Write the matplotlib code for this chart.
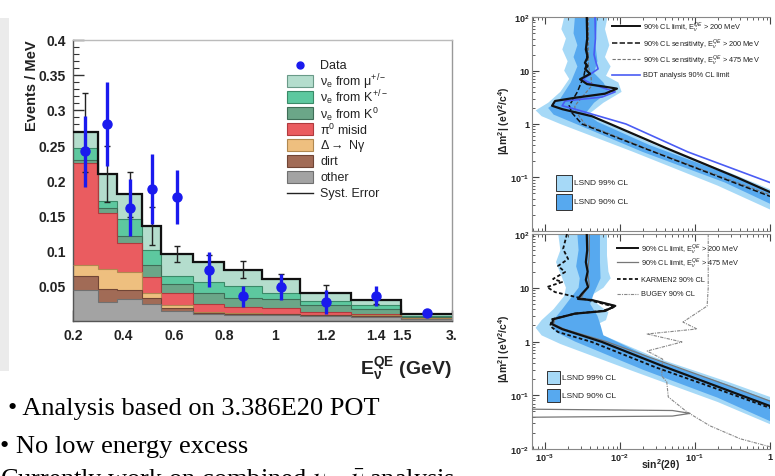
import numpy as np
import matplotlib
matplotlib.use("Agg")
import matplotlib.pyplot as plt
from matplotlib.patches import Rectangle
from matplotlib.ticker import FixedLocator, FixedFormatter, MultipleLocator, NullFormatter, LogLocator

plt.rcParams['font.family'] = ['Liberation Sans', 'DejaVu Sans']
plt.rcParams['mathtext.fontset'] = 'custom'
plt.rcParams['mathtext.rm'] = 'Liberation Sans'
plt.rcParams['mathtext.it'] = 'Liberation Sans:italic'
plt.rcParams['mathtext.bf'] = 'Liberation Sans:bold'

# ---------------- left panel data (Events / MeV) ----------------
bin_edges = [0.2, 0.3, 0.375, 0.475, 0.55, 0.675, 0.8, 0.95, 1.1, 1.3, 1.5, 3.0]
other = [0.043, 0.027, 0.031, 0.024, 0.014, 0.0095, 0.008, 0.008, 0.006, 0.005, 0.0025]
dirt = [0.021, 0.018, 0.012, 0.008, 0.004, 0.0015, 0.0015, 0.0015, 0.002, 0.002, 0.0005]
delta_ng = [0.016, 0.029, 0.026, 0.008, 0.004, 0.0015, 0.0015, 0.0005, 0.0005, 0.0005, 0.0003]
pi0_misid = [0.145, 0.079, 0.042, 0.022, 0.017, 0.0112, 0.008, 0.0076, 0.0035, 0.002, 0.0005]
nue_k0 = [0.004, 0.007, 0.010, 0.017, 0.013, 0.0153, 0.014, 0.0134, 0.010, 0.0075, 0.0019]
nue_kpm = [0.017, 0.010, 0.024, 0.021, 0.011, 0.0156, 0.017, 0.008, 0.006, 0.005, 0.0013]
nue_mu = [0.022, 0.039, 0.035, 0.035, 0.032, 0.0284, 0.0226, 0.021, 0.012, 0.007, 0.0025]
syst_err = [0.056, 0.040, 0.032, 0.027, 0.012, 0.010, 0.0125, 0.007, 0.011, 0.005, 0.002]
data_vals = [0.241, 0.280, 0.161, 0.187, 0.176, 0.0726, 0.0346, 0.048, 0.026, 0.0356, 0.0104]
data_errs = [0.050, 0.060, 0.041, 0.050, 0.038, 0.025, 0.015, 0.018, 0.017, 0.014, 0.002]
comp_labels = [r'$\mathrm{\nu_{e}}$ from $\mathrm{\mu^{+/-}}$', r'$\mathrm{\nu_{e}}$ from K$^{+/-}$',
               r'$\mathrm{\nu_{e}}$ from K$^{0}$', r'$\mathrm{\pi^{0}}$ misid',
               r'$\mathrm{\Delta\rightarrow}$ N$\mathrm{\gamma}$', 'dirt', 'other']
x_tick_vals = [0.2, 0.4, 0.6, 0.8, 1.0, 1.2, 1.4, 1.5, 3.0]
x_tick_labels = ['0.2', '0.4', '0.6', '0.8', '1', '1.2', '1.4', '1.5', '3.']
y_tick_vals = [0.05, 0.1, 0.15, 0.2, 0.25, 0.3, 0.35, 0.4]
y_tick_labels = ['0.05', '0.1', '0.15', '0.2', '0.25', '0.3', '0.35', '0.4']

# ---------------- right panels data (sin^2 2theta, dm^2) ----------------
top_limit_x = [3.6e-3, 3.65e-3, 3.5e-3, 3.7e-3, 3.4e-3, 3.7e-3, 3.42e-3, 3.98e-3, 2.93e-3, 3.63e-3, 6.3e-3,
               9.1e-3, 6.3e-3, 2.5e-3, 1.36e-3, 1.24e-3, 1.69e-3, 4.2e-3, 7.4e-3, 0.04, 0.36, 1.0]
top_limit_y = [100, 40, 25, 18, 14, 12.2, 10.8, 8.7, 6.9, 5.6, 5.0, 4.6, 3.7, 3.1, 2.7, 2.2, 1.9, 1.4,
               1.0, 0.36, 0.1, 0.053]
top_sens200_x = [3.6e-3, 3.6e-3, 3.3e-3, 2.7e-3, 2.1e-3, 2.3e-3, 3.1e-3, 0.03, 1.0]
top_sens200_y = [100, 15, 8, 4, 2.2, 1.6, 1.0, 0.29, 0.044]
top_sens475_x = [3.8e-3, 3.8e-3, 4.1e-3, 4.2e-3, 3.3e-3, 2.5e-3, 2.5e-3, 3.4e-3, 0.033, 1.0]
top_sens475_y = [100, 12, 8, 5.2, 3.5, 2.2, 1.8, 1.0, 0.28, 0.047]
top_bdt_x = [4.64e-3, 4.7e-3, 4.5e-3, 4.8e-3, 5.1e-3, 3.2e-3, 4.2e-3, 8.6e-3, 5.75e-3, 1.85e-3, 1.69e-3,
             2.5e-3, 1.2e-2, 0.08, 1.0]
top_bdt_y = [100, 40, 20, 14, 10.8, 6.9, 5.6, 4.0, 3.2, 2.7, 2.2, 1.9, 1.0, 0.3, 0.08]
top_lsnd99_x = [1.8e-3, 1.65e-3, 1.9e-3, 1.7e-3, 2.0e-3, 1.8e-3, 2.1e-3, 1.6e-3, 1.1e-3, 7.5e-4, 9e-4, 1.6e-3,
                0.015, 0.2, 1.0, 1.0, 0.3, 0.03, 6e-3, 4e-3, 6e-3, 1.05e-2, 9.5e-3, 6.5e-3, 7.5e-3, 6.3e-3,
                7.2e-3, 6.3e-3, 6.8e-3]
top_lsnd99_y = [100, 60, 40, 25, 15, 10, 7, 4, 2.5, 1.8, 1.4, 1.0, 0.3, 0.07, 0.025, 0.06, 0.12, 0.4, 1.1,
                1.6, 2.5, 4, 6, 8, 12, 18, 30, 60, 100]
top_lsnd90_x = [2.5e-3, 2.4e-3, 2.7e-3, 2.4e-3, 2.7e-3, 2.2e-3, 1.6e-3, 1.1e-3, 1.3e-3, 2.6e-3, 0.02, 0.25,
                1.0, 1.0, 0.3, 0.025, 5e-3, 3.5e-3, 4.5e-3, 7e-3, 6e-3, 4.5e-3, 5e-3, 4.7e-3, 5e-3]
top_lsnd90_y = [100, 50, 30, 18, 12, 6, 3, 2.0, 1.5, 1.0, 0.3, 0.08, 0.032, 0.053, 0.11, 0.4, 1.1, 1.6,
                2.5, 4, 6, 9, 15, 30, 100]

bot_limit200_x = [3.6e-3, 3.65e-3, 3.5e-3, 3.7e-3, 3.5e-3, 3.75e-3, 3.1e-3, 2.75e-3, 4.2e-3, 8.6e-3, 6.3e-3,
                  2.5e-3, 1.28e-3, 1.24e-3, 1.69e-3, 5.75e-3, 0.035, 0.2, 1.0]
bot_limit200_y = [100, 50, 30, 20, 14, 10.3, 7.7, 6.2, 5.9, 4.6, 3.7, 3.3, 2.6, 2.1, 1.7, 0.98, 0.36,
                  0.145, 0.063]
bot_limit475_x = [3.9e-3, 3.9e-3, 3.7e-3, 3.9e-3, 3.3e-3, 3.0e-3, 4.5e-3, 8.8e-3, 6.5e-3, 2.6e-3, 1.35e-3,
                  1.3e-3, 1.8e-3, 6.5e-3, 0.04, 0.25, 1.0]
bot_limit475_y = [100, 40, 20, 11, 8, 6.3, 5.8, 4.6, 3.7, 3.3, 2.6, 2.1, 1.7, 1.0, 0.4, 0.16, 0.078]
bot_island_x = [6.7e-4, 0.05, 0.086, 0.05, 6.7e-4]
bot_island_y = [0.055, 0.052, 0.046, 0.041, 0.039]
karmen_x = [1.96e-3, 1.74e-3, 2.03e-3, 1.49e-3, 1.85e-3, 1.28e-3, 1.69e-3, 1.06e-3, 1.36e-3, 2.29e-3,
            4.2e-3, 8.6e-3, 5.75e-3, 2.5e-3, 1.24e-3, 1.17e-3, 1.49e-3, 4.2e-3, 0.03, 0.2, 1.0]
karmen_y = [100, 52.6, 34.3, 25.4, 19.6, 14.6, 12.8, 10.3, 8.3, 7.0, 5.7, 4.4, 3.7, 3.3, 2.6, 1.94,
            1.5, 0.98, 0.33, 0.13, 0.058]
bugey_x = [0.15, 0.15, 0.145, 0.069, 0.106, 0.023, 0.067, 0.023, 0.037, 0.036, 0.042, 0.044, 0.078,
           0.158, 0.40, 1.0]
bugey_y = [100, 10, 4.57, 2.3, 1.71, 1.38, 0.98, 0.665, 0.47, 0.228, 0.177, 0.093, 0.049, 0.027,
           0.0155, 0.011]
bot_lsnd99_x = [1.5e-3, 1.6e-3, 1.4e-3, 1.7e-3, 1.9e-3, 1.8e-3, 1.3e-3, 9e-4, 7.5e-4, 9e-4, 1.6e-3, 0.015,
                0.2, 1.0, 1.0, 0.3, 0.03, 6e-3, 4e-3, 6.5e-3, 7e-3, 5e-3, 4e-3, 6e-3, 7.5e-3, 7e-3,
                6.7e-3, 6.7e-3]
bot_lsnd99_y = [100, 50, 30, 15, 10, 7, 4, 2.5, 1.8, 1.3, 0.9, 0.28, 0.075, 0.029, 0.093, 0.17, 0.5,
                1.3, 1.8, 2.5, 3.5, 5, 7, 10, 15, 20, 40, 100]
bot_lsnd90_x = [2.7e-3, 2.8e-3, 2.6e-3, 2.9e-3, 2.8e-3, 2.3e-3, 1.7e-3, 1.2e-3, 1.4e-3, 2.5e-3, 0.02, 0.2,
                1.0, 1.0, 0.3, 0.03, 6e-3, 5.5e-3, 5e-3, 4e-3, 4.5e-3, 5.5e-3, 5.4e-3, 5.4e-3]
bot_lsnd90_y = [100, 50, 25, 15, 10, 7, 4, 2.2, 1.5, 1.0, 0.3, 0.09, 0.033, 0.079, 0.15, 0.45, 1.3, 2.0,
                3.0, 5, 8, 15, 30, 100]
log_y_ticks = [1e-2, 1e-1, 1, 10, 100]
log_y_labels = [r'$\mathbf{10^{-2}}$', r'$\mathbf{10^{-1}}$', '1', '10', r'$\mathbf{10^{2}}$']
log_x_ticks = [1e-3, 1e-2, 1e-1, 1]
log_x_labels = [r'$\mathbf{10^{-3}}$', r'$\mathbf{10^{-2}}$', r'$\mathbf{10^{-1}}$', '1']

top_legend_labels = [r'90% CL limit, E$_{\nu}^{QE}$ > 200 MeV', r'90% CL sensitivity, E$_{\nu}^{QE}$ > 200 MeV',
                     r'90% CL sensitivity, E$_{\nu}^{QE}$ > 475 MeV', 'BDT analysis 90% CL limit']
bot_legend_labels = [r'90% CL limit, E$_{\nu}^{QE}$ > 200 MeV', r'90% CL limit, E$_{\nu}^{QE}$ > 475 MeV',
                     'KARMEN2 90% CL', 'BUGEY 90% CL']
lsnd_labels = ['LSND 99% CL', 'LSND 90% CL']

bullets = ['\u2022 Analysis based on 3.386E20 POT', '\u2022 No low energy excess',
           r'Currently work on combined $\nu - \bar{\nu}$ analysis']

# ---------------- figure ----------------
W, H = 775, 477
fig = plt.figure(figsize=(W / 100, H / 100), dpi=100)
fig.patch.set_facecolor('white')


def rect_px(l, t, r, b):
    return [l / W, 1 - b / H, (r - l) / W, (b - t) / H]


def ax_pt(rect, x, y):
    """figure-pixel position -> axes fraction for an axes placed with rect_px(l,t,r,b)."""
    l, t, r, b = rect
    return (x - l) / (r - l), (b - y) / (b - t)


fig.patches.append(Rectangle((0, 0.22), 0.011, 0.74, transform=fig.transFigure,
                             facecolor='#ebebeb', edgecolor='none', zorder=0))

# ---- left histogram ----
R_L = (72.7, 40.7, 452, 321.7)
ax = fig.add_axes(rect_px(*R_L))


def fwd(x):
    x = np.asarray(x, float)
    return np.where(x <= 1.5, x, 1.5 + (x - 1.5) / 7.5)


def inv(y):
    y = np.asarray(y, float)
    return np.where(y <= 1.5, y, 1.5 + (y - 1.5) * 7.5)


ax.set_xscale('function', functions=(fwd, inv))
ax.set_xlim(0.2, 3.0)
ax.set_ylim(0, 0.4)

comps = [other, dirt, delta_ng, pi0_misid, nue_k0, nue_kpm, nue_mu]
face = ['#a3a3a3', '#a16b56', '#eebf7f', '#ea5c60', '#6ba688', '#5dc89f', '#b4ddcd']
edge = ['#707070', '#704535', '#b08850', '#b03a3e', '#3f6e57', '#3a8a68', '#6a9a88']
cum = np.cumsum(np.array(comps), axis=0)
for i in range(len(comps) - 1, -1, -1):
    ax.stairs(cum[i], bin_edges, fill=True, facecolor=face[i], edgecolor='none', zorder=2)
    ax.stairs(cum[i], bin_edges, fill=False, color=edge[i], lw=0.8, baseline=None, zorder=3)
ax.stairs(cum[-1], bin_edges, fill=False, color='#111111', lw=1.6, baseline=None, zorder=4)

edges_arr = np.array(bin_edges)
centers = 0.5 * (edges_arr[:-1] + edges_arr[1:])
ax.errorbar(centers, cum[-1], yerr=syst_err, fmt='none', ecolor='#222222', elinewidth=1.0,
            capsize=2.5, capthick=1.0, zorder=5)
ax.errorbar(centers, data_vals, yerr=data_errs, fmt='o', color='#1a1aee', ms=6.5, elinewidth=2.4,
            capsize=0, zorder=6)

ax.xaxis.set_major_locator(FixedLocator(x_tick_vals))
ax.xaxis.set_major_formatter(FixedFormatter(x_tick_labels))
ax.xaxis.set_minor_locator(FixedLocator(list(np.arange(0.2, 1.5001, 0.05))))
ax.yaxis.set_major_locator(FixedLocator(y_tick_vals))
ax.yaxis.set_major_formatter(FixedFormatter(y_tick_labels))
ax.yaxis.set_minor_locator(MultipleLocator(0.01))
ax.tick_params(which='both', direction='in', top=False, right=False, colors='#333333')
ax.tick_params(which='major', length=8, width=1, labelsize=10, pad=5)
ax.tick_params(which='minor', length=4, width=0.8)
for lab in ax.get_xticklabels() + ax.get_yticklabels():
    lab.set_fontweight('bold')
    lab.set_color('#222222')
for s in ax.spines.values():
    s.set_color('#555555')
    s.set_linewidth(1.0)
ax.spines['top'].set_color('#bbbbbb')
ax.spines['right'].set_color('#999999')
ax.set_ylabel('Events / MeV', fontsize=10.5, fontweight='bold', loc='top', color='#222222')
ax.yaxis.set_label_coords(-0.09, 1.0)
ax.set_xlabel(r'$\mathbf{E_{\nu}^{QE}}$ (GeV)', fontsize=14, fontweight='bold', loc='right',
              color='#222222')
ax.xaxis.set_label_coords(1.0, -0.12)

# manual legend (rows 16 px apart)
leg_labels = ['Data'] + comp_labels + ['Syst. Error']
for k, lab in enumerate(leg_labels):
    yc = 66 + 16 * k
    xa, ya = ax_pt(R_L, 287, yc)
    xb, _ = ax_pt(R_L, 313, yc)
    _, hgt = ax_pt(R_L, 0, R_L[3] - 12)
    if k == 0:
        ax.plot([(xa + xb) / 2], [ya], 'o', color='#1a1aee', ms=5, transform=ax.transAxes,
                clip_on=False, zorder=7)
    elif k == len(leg_labels) - 1:
        ax.plot([xa, xb], [ya, ya], color='#222222', lw=1.0, transform=ax.transAxes, zorder=7)
    else:
        ci = len(comps) - k
        ax.add_patch(Rectangle((xa, ya - hgt / 2), xb - xa, hgt, transform=ax.transAxes,
                               facecolor=face[ci], edgecolor=edge[ci], lw=0.8, zorder=7))
    xt, _ = ax_pt(R_L, 320, yc)
    ax.text(xt, ya, lab, transform=ax.transAxes, fontsize=9, va='center', ha='left',
            color='#222222', zorder=7)

# ---- right log-log panels ----
light = '#a6d9f7'
medium = '#57a9ef'


def setup_log(a, show_x_labels, ylabels):
    a.set_xscale('log')
    a.set_yscale('log')
    a.set_xlim(6.7e-4, 1.0)
    a.set_ylim(1e-2, 1e2)
    a.yaxis.set_major_locator(FixedLocator(log_y_ticks))
    a.yaxis.set_major_formatter(FixedFormatter(ylabels))
    a.yaxis.set_minor_locator(LogLocator(base=10, subs=np.arange(2, 10)))
    a.yaxis.set_minor_formatter(NullFormatter())
    a.xaxis.set_major_locator(FixedLocator(log_x_ticks))
    a.xaxis.set_major_formatter(FixedFormatter(log_x_labels if show_x_labels else [''] * 4))
    a.xaxis.set_minor_locator(LogLocator(base=10, subs=np.arange(2, 10)))
    a.xaxis.set_minor_formatter(NullFormatter())
    a.tick_params(which='both', direction='in', top=True, right=False, colors='#444444')
    a.tick_params(which='major', length=5, width=0.8, labelsize=6.5, pad=2)
    a.tick_params(which='minor', length=2.5, width=0.6)
    for lab in a.get_xticklabels() + a.get_yticklabels():
        lab.set_fontweight('bold')
        lab.set_color('#222222')
    for s in a.spines.values():
        s.set_color('#888888')
        s.set_linewidth(0.8)
    a.spines['right'].set_visible(False)
    a.set_ylabel(r'$\mathbf{|\Delta m^{2}|\ (eV^{2}/c^{4})}$', fontsize=7.5, color='#222222')


def line_legend(a, rect, styles, labels, x0, x1, xt, rows):
    for st, lab, yc in zip(styles, labels, rows):
        xa, ya = ax_pt(rect, x0, yc)
        xb, _ = ax_pt(rect, x1, yc)
        a.plot([xa, xb], [ya, ya], transform=a.transAxes, zorder=8, **st)
        xtt, _ = ax_pt(rect, xt, yc)
        a.text(xtt, ya, lab, transform=a.transAxes, fontsize=5.3, va='center', ha='left',
               color='#222222', zorder=8)


def box_legend(a, rect, colors, labels, x0, x1, xt, rows, bh):
    for c, lab, yc in zip(colors, labels, rows):
        xa, ya = ax_pt(rect, x0, yc)
        xb, _ = ax_pt(rect, x1, yc)
        _, hh = ax_pt(rect, 0, rect[3] - bh)
        a.add_patch(Rectangle((xa, ya - hh / 2), xb - xa, hh, transform=a.transAxes,
                              facecolor=c, edgecolor='#333333', lw=0.7, zorder=8))
        xtt, _ = ax_pt(rect, xt, yc)
        a.text(xtt, ya, lab, transform=a.transAxes, fontsize=6, va='center', ha='left',
               color='#222222', zorder=8)


R_T = (532, 18.3, 770, 231.7)
axt = fig.add_axes(rect_px(*R_T))
setup_log(axt, False, [''] + log_y_labels[1:])
axt.yaxis.set_label_coords(-0.085, 0.52)
axt.fill(top_lsnd99_x, top_lsnd99_y, color=light, lw=0, zorder=1)
axt.fill(top_lsnd90_x, top_lsnd90_y, color=medium, lw=0, zorder=2)
axt.plot(top_sens475_x, top_sens475_y, color='#777777', lw=0.8, ls=(0, (3, 1.5)), zorder=3)
axt.plot(top_sens200_x, top_sens200_y, color='#111111', lw=1.1, ls=(0, (3.5, 1.5)), zorder=4)
axt.plot(top_bdt_x, top_bdt_y, color='#4a5cf4', lw=1.2, zorder=5)
axt.plot(top_limit_x, top_limit_y, color='#111111', lw=1.6, zorder=6)
top_styles = [dict(color='#111111', lw=1.4), dict(color='#111111', lw=1.1, ls=(0, (3.5, 1.5))),
              dict(color='#777777', lw=0.8, ls=(0, (3, 1.5))), dict(color='#4a5cf4', lw=1.2)]
line_legend(axt, R_T, top_styles, top_legend_labels, 612, 640, 643, [27, 44, 60, 76])
box_legend(axt, R_T, [light, medium], lsnd_labels, 556, 572, 574, [183.5, 203], 16)

R_B = (532, 235, 770, 450)
axb = fig.add_axes(rect_px(*R_B))
setup_log(axb, True, log_y_labels)
axb.yaxis.set_label_coords(-0.085, 0.47)
axb.fill(bot_lsnd99_x, bot_lsnd99_y, color=light, lw=0, zorder=1)
axb.fill(bot_lsnd90_x, bot_lsnd90_y, color=medium, lw=0, zorder=2)
axb.plot(bugey_x, bugey_y, color='#888888', lw=0.8, ls=(0, (3, 1, 1, 1)), zorder=3)
axb.plot(bot_island_x, bot_island_y, color='#777777', lw=0.9, zorder=3)
axb.plot(bot_limit475_x, bot_limit475_y, color='#777777', lw=0.9, zorder=4)
axb.plot(bot_limit200_x, bot_limit200_y, color='#111111', lw=1.6, zorder=5)
axb.plot(karmen_x, karmen_y, color='#111111', lw=1.3, ls=(0, (2, 1.3)), zorder=6)
bot_styles = [dict(color='#111111', lw=1.4), dict(color='#777777', lw=0.9),
              dict(color='#111111', lw=1.3, ls=(0, (2, 1.3))),
              dict(color='#888888', lw=0.8, ls=(0, (3, 1, 1, 1)))]
line_legend(axb, R_B, bot_styles, bot_legend_labels, 617, 638, 641, [249, 263, 280, 295])
box_legend(axb, R_B, [light, medium], lsnd_labels, 547, 560, 562, [378.5, 396.5], 13)
axb.set_xlabel(r'$\mathbf{sin^{2}(2\theta)}$', fontsize=7.5, color='#222222')
axb.xaxis.set_label_coords(0.54, -0.035)

# ---- bullet text ----
serif = ['Liberation Serif', 'DejaVu Serif']
fig.text(8 / W, 1 - 415 / H, bullets[0], fontsize=19, family=serif, va='baseline', ha='left')
fig.text(0 / W, 1 - 453 / H, bullets[1], fontsize=19, family=serif, va='baseline', ha='left')
fig.text(0 / W, 1 - 487 / H, bullets[2], fontsize=19, family=serif, va='baseline', ha='left',
         math_fontfamily='stix')

fig.savefig('out.png', dpi=100)
